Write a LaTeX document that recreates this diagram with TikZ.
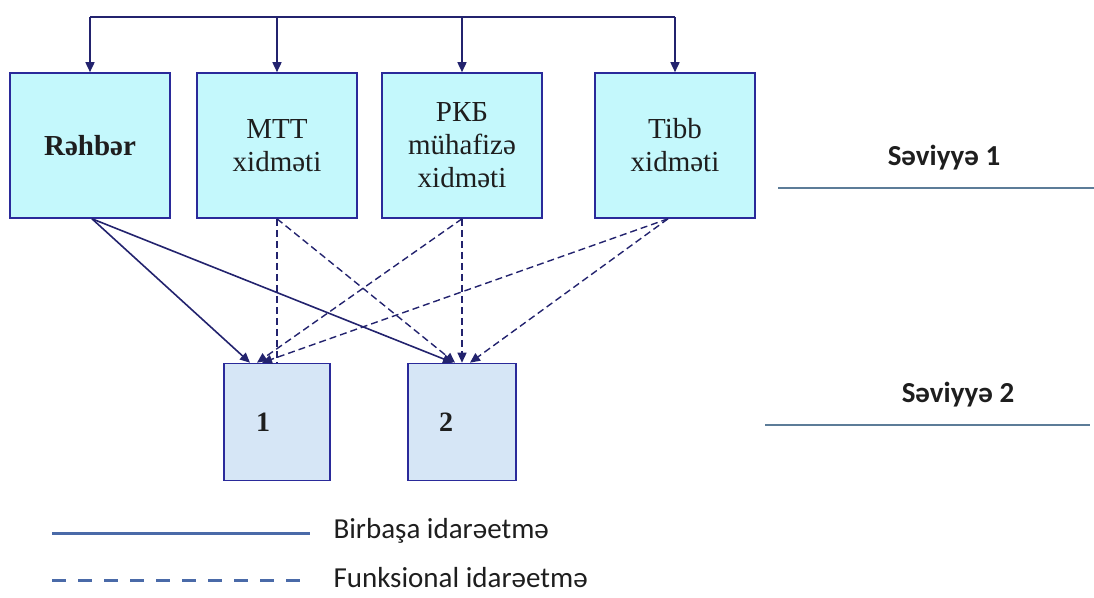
\documentclass[tikz,border=0pt]{standalone}
\usepackage{fontspec}
\setmainfont{Liberation Serif}
\newfontfamily\calfont{Carlito}
\usetikzlibrary{arrows.meta}
\definecolor{navy}{HTML}{23236E}
\definecolor{boxedge}{HTML}{2A2A9A}
\definecolor{boxfill}{HTML}{C4F8FC}
\definecolor{lowfill}{HTML}{D6E6F6}
\definecolor{legendblue}{HTML}{4A6AA8}
\definecolor{levelline}{HTML}{5C7C98}
\definecolor{txt}{HTML}{1E1E1E}
\tikzset{
  topbox/.style={draw=boxedge, line width=1.6pt, fill=boxfill, minimum width=160pt, minimum height=145pt, align=center, font=\fontsize{29}{33}\selectfont, text=txt, inner sep=0pt},
  lowbox/.style={draw=boxedge, line width=1.6pt, fill=lowfill, minimum height=117pt, font=\fontsize{28}{30}\selectfont\bfseries, text=txt, inner sep=0pt},
  tip/.style={-{Triangle[width=9pt,length=10pt]}},
  direct/.style={draw=navy, line width=1.6pt, tip},
  func/.style={draw=navy, line width=1.4pt, dash pattern=on 7pt off 4pt, tip},
  leveltext/.style={font=\calfont\fontsize{29}{33}\selectfont\bfseries, text=txt},
  legendtext/.style={font=\calfont\fontsize{29}{33}\selectfont, text=txt, anchor=west}
}
\begin{document}
\begin{tikzpicture}[x=1pt,y=-1pt]
\useasboundingbox (0,0) rectangle (1094,597);
% top boxes
\node[topbox] (r) at (90,145.5) {\textbf{Rəhbər}};
\node[topbox] (m) at (277,145.5) {MTT\\xidməti};
\node[topbox] (p) at (462,145.5) {РКБ\\mühafizə\\xidməti};
\node[topbox] (t) at (675,145.5) {Tibb\\xidməti};
% lower boxes
\node[lowbox, minimum width=106pt] (b1) at (277,422) {};
\node[lowbox, minimum width=108pt] (b2) at (462,422) {};
\node[font=\fontsize{28}{30}\selectfont\bfseries, text=txt] (n1) at (263,422) {1};
\node[font=\fontsize{28}{30}\selectfont\bfseries, text=txt] (n2) at (446,422) {2};
% top bus
\coordinate (busL) at (90,17);
\coordinate (busR) at (675,17);
\draw[draw=navy, line width=1.6pt] (busL) -- (busR);
\draw[direct] (busL) -- (r.north);
\draw[direct] (m.north |- busL) -- (m.north);
\draw[direct] (p.north |- busL) -- (p.north);
\draw[direct] (busR) -- (t.north);
% direct management
\draw[direct] ([xshift=2pt]r.south) -- ([xshift=-27pt]b1.north);
\draw[direct] ([xshift=2pt]r.south) -- ([xshift=-9pt]b2.north);
% functional management
\draw[func, -] (m.south) -- (b1.north);
\draw[func] (m.south) -- ([xshift=-7pt]b2.north);
\draw[func] (p.south) -- (b2.north);
\draw[func] (p.south) -- ([xshift=-20pt]b1.north);
\draw[func] ([xshift=-7pt]t.south) -- ([xshift=-15pt]b1.north);
\draw[func] ([xshift=-7pt]t.south) -- ([xshift=8pt]b2.north);
% levels
\node[leveltext] (l1) at (944,158) {Səviyyə 1};
\coordinate (l1a) at (778,188);
\coordinate (l1b) at (1094,188);
\draw[levelline, line width=1.4pt] (l1a) -- (l1b);
\node[leveltext] (l2) at (958,395) {Səviyyə 2};
\coordinate (l2a) at (765,425);
\coordinate (l2b) at (1090,425);
\draw[levelline, line width=1.4pt] (l2a) -- (l2b);
% legend
\coordinate (la) at (52,533);
\coordinate (lb) at (310,533);
\draw[legendblue, line width=3pt] (la) -- (lb);
\node[legendtext] (lt1) at (330,531) {Birbaşa idarəetmə};
\coordinate (lc) at (52,580);
\coordinate (ld) at (310,580);
\draw[legendblue, line width=3pt, dash pattern=on 14pt off 12pt] (lc) -- (ld);
\node[legendtext] (lt2) at (330,578) {Funksional idarəetmə};
\end{tikzpicture}
\end{document}
